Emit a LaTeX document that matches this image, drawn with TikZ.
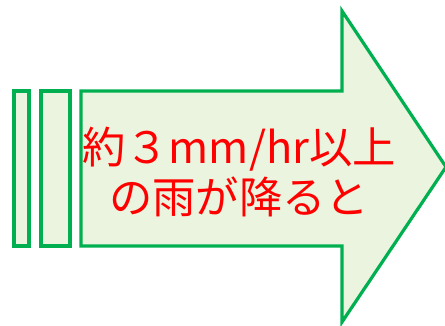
\documentclass[tikz,border=0pt]{standalone}
\usepackage{fontspec}
\newfontfamily\cjk{Noto Sans CJK JP}
\definecolor{arrowgreen}{HTML}{00B050}
\definecolor{arrowfill}{HTML}{EAF4DE}
\begin{document}
\begin{tikzpicture}[x=0.75pt,y=-0.75pt,
  shapeline/.style={draw=arrowgreen,fill=arrowfill,line width=2.4pt,line join=miter},
  label/.style={text=red,font=\cjk\fontsize{32.5pt}{38pt}\selectfont,align=center,inner sep=0pt}]
\useasboundingbox (0,0) rectangle (445,325);
\draw[shapeline] (14,91) rectangle (29,246);
\draw[shapeline] (41,91) rectangle (70,246);
\draw[shapeline] (81,91) -- (342,91) -- (342,11) -- (446,167) -- (342,322) -- (342,246) -- (81,246) -- cycle;
\node[label] (txt) at (239,172) {約３mm/hr以上\\の雨が降ると};
\end{tikzpicture}
\end{document}
